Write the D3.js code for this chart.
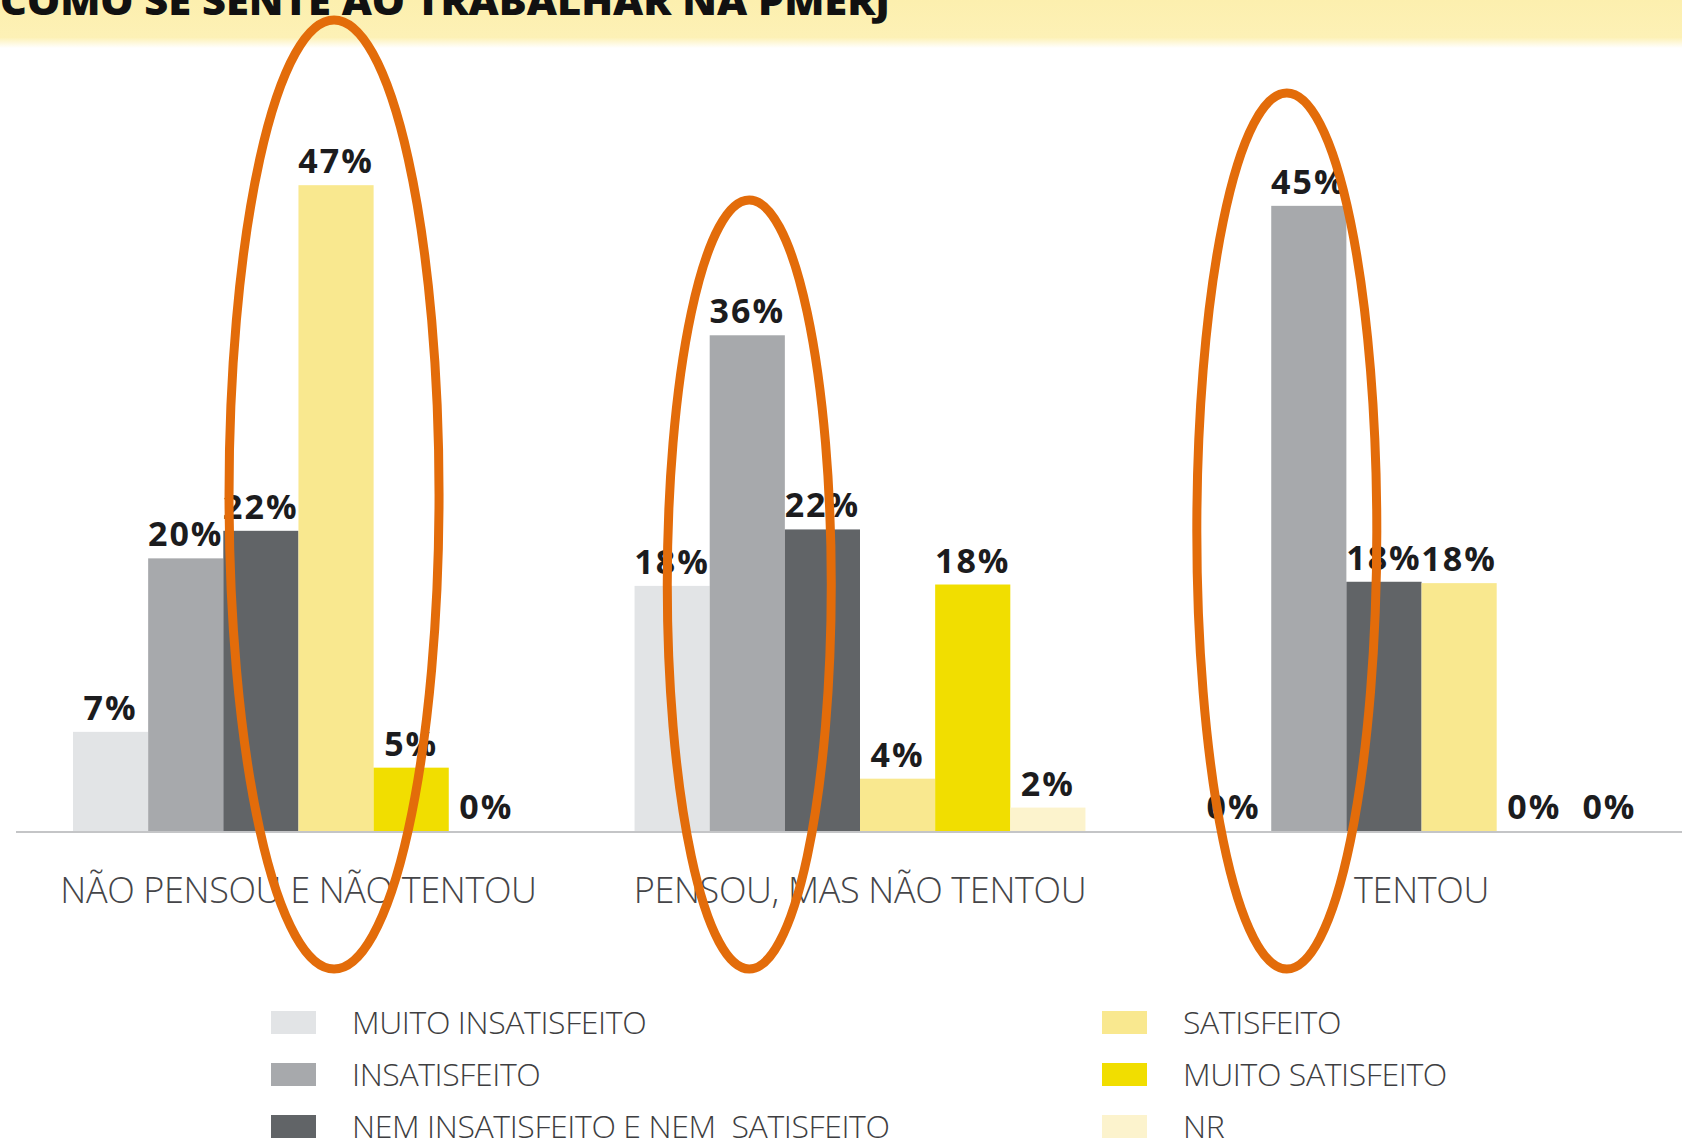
<!DOCTYPE html>
<html><head><meta charset="utf-8">
<script src="https://cdn.jsdelivr.net/npm/d3@7"></script>
<style>html,body{margin:0;padding:0;background:#fff;overflow:hidden}</style>
</head><body><svg id="c" width="1682" height="1147"></svg>
<script>
// ---- data ----
const title = "COMO SE SENTE AO TRABALHAR NA PMERJ";
const categories = ["NÃO PENSOU E NÃO TENTOU", "PENSOU, MAS NÃO TENTOU", "TENTOU"];
const series = ["MUITO INSATISFEITO", "INSATISFEITO", "NEM INSATISFEITO E NEM  SATISFEITO", "SATISFEITO", "MUITO SATISFEITO", "NR"];
const muitoInsatisfeito = [7.2, 17.8, 0];
const insatisfeito      = [19.8, 36.0, 45.4];
const nemNem            = [21.8, 21.9, 18.1];
const satisfeito        = [46.9, 3.8, 18.0];
const muitoSatisfeito   = [4.6, 17.9, 0];
const nr                = [0, 1.7, 0];
const seriesValues = [muitoInsatisfeito, insatisfeito, nemNem, satisfeito, muitoSatisfeito, nr];
const colors = ["#e2e4e6", "#a7a9ac", "#616467", "#f9e88f", "#f1de00", "#fcf3cd"];
// highlighted bars (category index, series index)
const highlights = [[0, 3], [1, 1], [2, 1]];

// ---- layout ----
const W = 1682, H = 1147;
const svg = d3.select("#c");
const base = 831;

const x0 = d3.scaleBand().domain(categories).range([73, 1647]).paddingInner(0.197).paddingOuter(0);
const x1 = d3.scaleBand().domain(series).range([0, x0.bandwidth()]).padding(0);
const y = d3.scaleLinear().domain([0, 50]).range([base, base - 50 * 13.77]);
const color = d3.scaleOrdinal().domain(series).range(colors);

// title band
const defs = svg.append("defs");
const g1 = defs.append("linearGradient").attr("id", "band").attr("x1", 0).attr("y1", 0).attr("x2", 0).attr("y2", 1);
g1.append("stop").attr("offset", "0%").attr("stop-color", "#fcefae");
g1.append("stop").attr("offset", "78%").attr("stop-color", "#fdf1b6");
g1.append("stop").attr("offset", "100%").attr("stop-color", "#ffffff");
svg.append("rect").attr("x", 0).attr("y", 0).attr("width", W).attr("height", 48).attr("fill", "url(#band)");
svg.append("text").attr("x", 0).attr("y", 15)
  .attr("font-family", "'Open Sans', sans-serif").attr("font-weight", 800).attr("font-size", 38)
  .attr("textLength", 890).attr("lengthAdjust", "spacingAndGlyphs")
  .attr("fill", "#111").text(title);

// bars
const rows = [];
categories.forEach((c, i) => series.forEach((s, j) => rows.push({c, s, v: seriesValues[j][i], i, j})));

const gBars = svg.append("g");
gBars.selectAll("rect").data(rows).join("rect")
  .attr("x", d => x0(d.c) + x1(d.s))
  .attr("y", d => y(d.v))
  .attr("width", x1.bandwidth())
  .attr("height", d => y(0) - y(d.v))
  .attr("fill", d => color(d.s));

// baseline
svg.append("line").attr("x1", 16).attr("x2", W).attr("y1", base + 1).attr("y2", base + 1)
  .attr("stroke", "#c4c5c7").attr("stroke-width", 2);

// value labels
svg.append("g").selectAll("text").data(rows).join("text")
  .attr("x", d => x0(d.c) + x1(d.s) + x1.bandwidth() / 2)
  .attr("y", d => y(d.v) - 12)
  .attr("text-anchor", "middle")
  .attr("font-family", "'Open Sans', sans-serif").attr("font-weight", 700).attr("font-size", 34)
  .attr("letter-spacing", 2)
  .attr("fill", "#1c1c1e")
  .text(d => Math.round(d.v) + "%");

// category labels
svg.append("g").selectAll("text").data(categories).join("text")
  .attr("x", d => x0(d) + x0.bandwidth() / 2)
  .attr("y", 903)
  .attr("text-anchor", "middle")
  .attr("font-family", "'Open Sans', sans-serif").attr("font-weight", 300).attr("font-size", 36)
  .attr("letter-spacing", -0.35)
  .attr("fill", "#454548")
  .text(d => d);

// legend
const legend = svg.append("g");
const legItems = series.map((s, k) => ({s, col: Math.floor(k / 3), row: k % 3}));
const legX = [271, 1102], legY0 = 1022, legDY = 52;
const li = legend.selectAll("g").data(legItems).join("g")
  .attr("transform", d => `translate(${legX[d.col]},${legY0 + d.row * legDY})`);
li.append("rect").attr("x", 0).attr("y", -11).attr("width", 45).attr("height", 23).attr("fill", d => color(d.s));
li.append("text").attr("x", 81).attr("y", 12)
  .attr("xml:space", "preserve")
  .attr("font-family", "'Open Sans', sans-serif").attr("font-weight", 300).attr("font-size", 32)
  .attr("letter-spacing", -0.4)
  .attr("fill", "#3e3e41")
  .text(d => d.s);

// highlight ellipses (annotation)
const ellSpec = [
  {dx: -2, top: 20, bottom: 969, rx: 105},
  {dx: 2,  top: 200, bottom: 969, rx: 82},
  {dx: -22, top: 93, bottom: 969, rx: 90}
];
svg.append("g").selectAll("ellipse").data(highlights).join("ellipse")
  .attr("cx", (d, k) => x0(categories[d[0]]) + x1(series[d[1]]) + x1.bandwidth() / 2 + ellSpec[k].dx)
  .attr("cy", (d, k) => (ellSpec[k].top + ellSpec[k].bottom) / 2)
  .attr("rx", (d, k) => ellSpec[k].rx)
  .attr("ry", (d, k) => (ellSpec[k].bottom - ellSpec[k].top) / 2)
  .attr("fill", "none").attr("stroke", "#e36c0a").attr("stroke-width", 9);
</script></body></html>
